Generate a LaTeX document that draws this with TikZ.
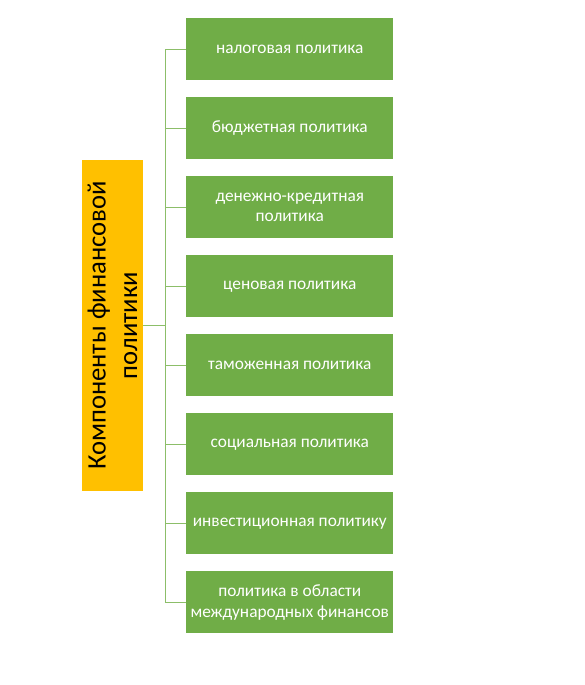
\documentclass[tikz,border=0pt]{standalone}
\usepackage{fontspec}
\setmainfont{Carlito}
\begin{document}
\begin{tikzpicture}[x=0.75pt,y=-0.75pt,
  gbox/.style={fill={rgb,255:red,112;green,173;blue,71}, minimum width=155.25pt, minimum height=46.5pt, inner sep=0pt, text=white, font=\fontsize{13}{15.5}\selectfont, align=center, anchor=north west},
  conn/.style={draw={rgb,255:red,140;green,190;blue,105}, line width=0.75pt}]
\useasboundingbox (0,0) rectangle (585,685);
\node[fill={rgb,255:red,255;green,192;blue,0}, minimum width=45.75pt, minimum height=248.25pt, inner sep=0pt] (root) at (112.5,325.5) {};
\node[rotate=90, align=center, font=\fontsize{20}{23.5}\selectfont] (rootlabel) at (root.center) {Компоненты финансовой\\политики};
\node[gbox] (b1) at (186,18) {налоговая политика};
\node[gbox] (b2) at (186,97) {бюджетная политика};
\node[gbox] (b3) at (186,176) {денежно-кредитная\\политика};
\node[gbox] (b4) at (186,255) {ценовая политика};
\node[gbox] (b5) at (186,334) {таможенная политика};
\node[gbox] (b6) at (186,413) {социальная политика};
\node[gbox] (b7) at (186,492) {инвестиционная политику};
\node[gbox] (b8) at (186,571) {политика в области\\международных финансов};
\coordinate (bus) at (165,325.5);
\draw[conn] (root.east) -- (bus);
\foreach \i in {1,...,8} {
  \draw[conn] (bus) |- (b\i.west);
}
\end{tikzpicture}
\end{document}
